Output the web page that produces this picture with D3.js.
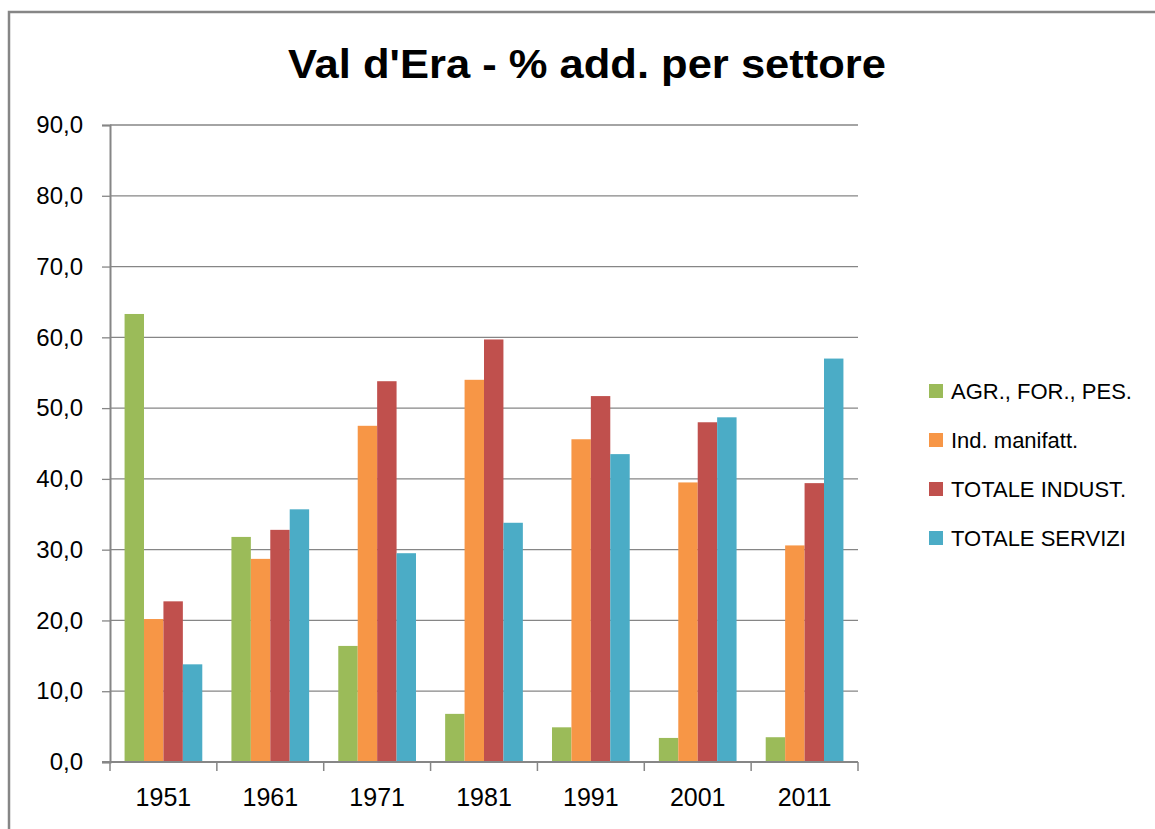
<!DOCTYPE html>
<html>
<head>
<meta charset="utf-8">
<script src="https://cdn.jsdelivr.net/npm/d3@7"></script>
<style>
  body { margin: 0; background: #fff; }
  svg { display: block; font-family: "Liberation Sans", Arial, sans-serif; }
</style>
</head>
<body>
<div id="chart"></div>
<script>
// Data
const years = ['1951', '1961', '1971', '1981', '1991', '2001', '2011'];
const seriesNames = ['AGR., FOR., PES.', 'Ind. manifatt.', 'TOTALE INDUST.', 'TOTALE SERVIZI'];
const agr = [63.3, 31.8, 16.4, 6.8, 4.9, 3.4, 3.5];
const manifatt = [20.2, 28.7, 47.5, 54.0, 45.6, 39.5, 30.6];
const industria = [22.7, 32.8, 53.8, 59.7, 51.7, 48.0, 39.4];
const servizi = [13.8, 35.7, 29.5, 33.8, 43.5, 48.7, 57.0];
const yTicks = [0, 10, 20, 30, 40, 50, 60, 70, 80, 90];
const colors = ['#9BBB59', '#F79646', '#C0504D', '#4BACC6'];

const W = 1155, H = 829;
const plot = { left: 110, right: 858, top: 125, bottom: 762 };
const axisColor = '#868686';

const svg = d3.select('#chart')
    .append('svg')
    .attr('width', W)
    .attr('height', H);

// Chart border (only top and left visible in the picture)
svg.append('path')
    .attr('d', `M9,${H} V12 H${W}`)
    .attr('fill', 'none')
    .attr('stroke', axisColor)
    .attr('stroke-width', 2.5);

// Title
svg.append('text')
    .attr('x', 587)
    .attr('y', 78)
    .attr('text-anchor', 'middle')
    .attr('font-size', 40)
    .attr('font-weight', 'bold')
    .attr('textLength', 598)
    .attr('lengthAdjust', 'spacingAndGlyphs')
    .attr('fill', '#000')
    .text("Val d'Era - % add. per settore");

// Scales
const x0 = d3.scaleBand()
    .domain(years)
    .range([plot.left, plot.right])
    .paddingInner(0)
    .paddingOuter(0);

// Excel-style gap width 150%: 0.75 bar width on each side
const x1 = d3.scaleBand()
    .domain(d3.range(seriesNames.length))
    .range([0, x0.bandwidth()])
    .paddingInner(0)
    .paddingOuter(0.75);

const y = d3.scaleLinear()
    .domain([0, 90])
    .range([plot.bottom, plot.top]);

// Gridlines
svg.append('g')
    .selectAll('line')
    .data(yTicks.filter(d => d > 0))
    .enter()
    .append('line')
    .attr('x1', plot.left)
    .attr('x2', plot.right)
    .attr('y1', d => y(d))
    .attr('y2', d => y(d))
    .attr('stroke', axisColor)
    .attr('stroke-width', 1.3);

// Bars
const allSeries = [agr, manifatt, industria, servizi];
const groups = svg.append('g')
    .selectAll('g')
    .data(years)
    .enter()
    .append('g')
    .attr('transform', d => `translate(${x0(d)},0)`);

groups.selectAll('rect')
    .data((yr, i) => allSeries.map((s, k) => ({ k, v: s[i] })))
    .enter()
    .append('rect')
    .attr('x', d => x1(d.k))
    .attr('width', x1.bandwidth())
    .attr('y', d => y(d.v))
    .attr('height', d => y(0) - y(d.v))
    .attr('fill', d => colors[d.k]);

// Y axis
const yAxis = svg.append('g')
    .attr('transform', `translate(${plot.left},0)`)
    .call(d3.axisLeft(y).tickValues(yTicks).tickSize(8).tickPadding(19)
        .tickFormat(d => d3.format('.1f')(d).replace('.', ',')));
yAxis.select('.domain').attr('stroke', axisColor).attr('stroke-width', 2);
yAxis.selectAll('.tick line').attr('stroke', axisColor).attr('stroke-width', 1.3);
yAxis.selectAll('.tick text')
    .attr('font-size', 24)
    .attr('fill', '#000')
    .attr('font-family', '"Liberation Sans", Arial, sans-serif');

// X axis
const xAxis = svg.append('g')
    .attr('transform', `translate(0,${plot.bottom})`)
    .call(d3.axisBottom(x0).tickSize(0).tickPadding(26));
xAxis.select('.domain').remove();
xAxis.selectAll('.tick text')
    .attr('font-size', 25)
    .attr('fill', '#000')
    .attr('font-family', '"Liberation Sans", Arial, sans-serif');

svg.append('line')
    .attr('x1', plot.left - 8)
    .attr('x2', plot.right)
    .attr('y1', plot.bottom)
    .attr('y2', plot.bottom)
    .attr('stroke', axisColor)
    .attr('stroke-width', 2.2);

// Category separator ticks
svg.append('g')
    .selectAll('line')
    .data(years.map(d => x0(d)).concat([plot.right]))
    .enter()
    .append('line')
    .attr('x1', d => d)
    .attr('x2', d => d)
    .attr('y1', plot.bottom)
    .attr('y2', plot.bottom + 9)
    .attr('stroke', axisColor)
    .attr('stroke-width', 1.5);

// Legend
const legend = svg.append('g')
    .attr('transform', 'translate(929,384)');

const items = legend.selectAll('g')
    .data(seriesNames)
    .enter()
    .append('g')
    .attr('transform', (d, i) => `translate(0,${i * 49})`);

items.append('rect')
    .attr('width', 14)
    .attr('height', 14)
    .attr('fill', (d, i) => colors[i]);

items.append('text')
    .attr('x', 22)
    .attr('y', 15)
    .attr('font-size', 22)
    .attr('fill', '#000')
    .text(d => d);
</script>
</body>
</html>
